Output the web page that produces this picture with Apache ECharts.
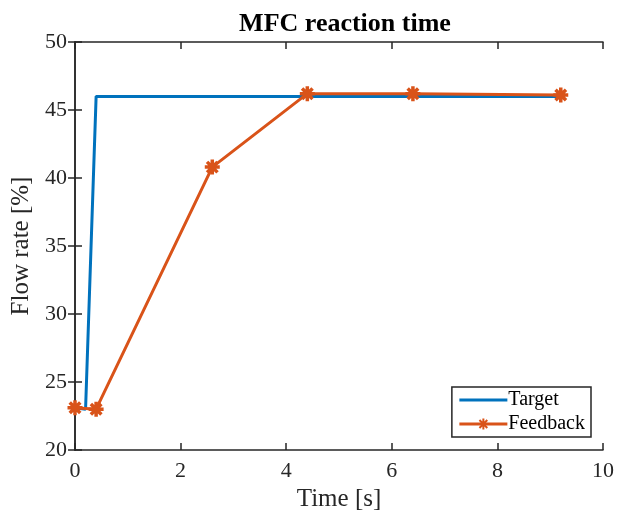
<!DOCTYPE html>
<html><head><meta charset="utf-8">
<script src="https://cdn.jsdelivr.net/npm/echarts@6/dist/echarts.min.js"></script>
<style>html,body{margin:0;padding:0;background:#fff}#c{width:619px;height:520px}</style>
</head><body><div id="c"></div>
<script>
const targetX = [0, 0.2, 0.4, 4.4, 6.4, 9.2];
const targetY = [23.1, 23.0, 46.0, 46.0, 46.0, 46.0];
const feedbackX = [0, 0.4, 2.6, 4.4, 6.4, 9.2];
const feedbackY = [23.1, 23.0, 40.8, 46.2, 46.2, 46.1];
const xTicks = [0, 2, 4, 6, 8, 10];
const yTicks = [20, 25, 30, 35, 40, 45, 50];

const font = 'Liberation Serif';
const star = 'path://M0,-10L0,10M-10,0L10,0M-7,-7L7,7M-7,7L7,-7';
const lineIcon = 'path://M0,0M48,14M0,5.5L48,5.5L48,8.5L0,8.5Z';
const chart = echarts.init(document.getElementById('c'));
const axisCommon = {
  axisLine: {show: true, lineStyle: {color: '#262626', width: 1.5}},
  axisTick: {show: true, inside: true, length: 7, lineStyle: {color: '#262626', width: 1.5}},
  splitLine: {show: false}
};
chart.setOption({
  animation: false,
  title: {text: 'MFC reaction time', left: 340, textAlign: 'center', top: 6,
    textStyle: {fontFamily: font, fontWeight: 'bold', fontSize: 26, color: '#000'}},
  grid: {left: 75, right: 16, top: 42, bottom: 70},
  legend: {
    right: 28, top: 387, orient: 'vertical', itemGap: 4, itemWidth: 48, itemHeight: 14,
    borderColor: '#262626', borderWidth: 1.5, backgroundColor: '#fff', borderRadius: 0,
    padding: [3, 6, 3, 6],
    lineStyle: {width: 3},
    textStyle: {fontFamily: font, fontSize: 20, color: '#000', padding: [0, 0, 0, -4]},
    data: [{name: 'Target', icon: lineIcon}, 'Feedback']
  },
  xAxis: [
    Object.assign({type: 'value', min: 0, max: 10, interval: 2, position: 'bottom',
      name: 'Time [s]', nameLocation: 'middle', nameGap: 35,
      nameTextStyle: {fontFamily: font, fontSize: 25, color: '#262626'},
      axisLabel: {fontFamily: font, fontSize: 22, color: '#262626', margin: 10,
        formatter: v => xTicks.includes(v) ? String(v) : ''}}, axisCommon),
    Object.assign({type: 'value', min: 0, max: 10, interval: 2, position: 'top',
      axisLabel: {show: false}}, axisCommon)
  ],
  yAxis: [
    Object.assign({type: 'value', min: 20, max: 50, interval: 5, position: 'left',
      name: 'Flow rate [%]', nameLocation: 'middle', nameGap: 37,
      nameTextStyle: {fontFamily: font, fontSize: 25, color: '#262626'},
      axisLabel: {fontFamily: font, fontSize: 22, color: '#262626', margin: 8,
        formatter: v => yTicks.includes(v) ? String(v) : ''}}, axisCommon),
    Object.assign({type: 'value', min: 20, max: 50, interval: 5, position: 'right',
      axisLabel: {show: false}}, axisCommon)
  ],
  series: [
    {name: 'Target', type: 'line', symbol: 'none',
      data: targetX.map((x, i) => [x, targetY[i]]),
      lineStyle: {color: '#0072BD', width: 3}, itemStyle: {color: '#0072BD'}},
    {name: 'Feedback', type: 'line', symbol: star, symbolSize: 15,
      data: feedbackX.map((x, i) => [x, feedbackY[i]]),
      lineStyle: {color: '#D95319', width: 3},
      itemStyle: {color: '#D95319', borderColor: '#D95319', borderWidth: 3.5}}
  ]
});
</script></body></html>
